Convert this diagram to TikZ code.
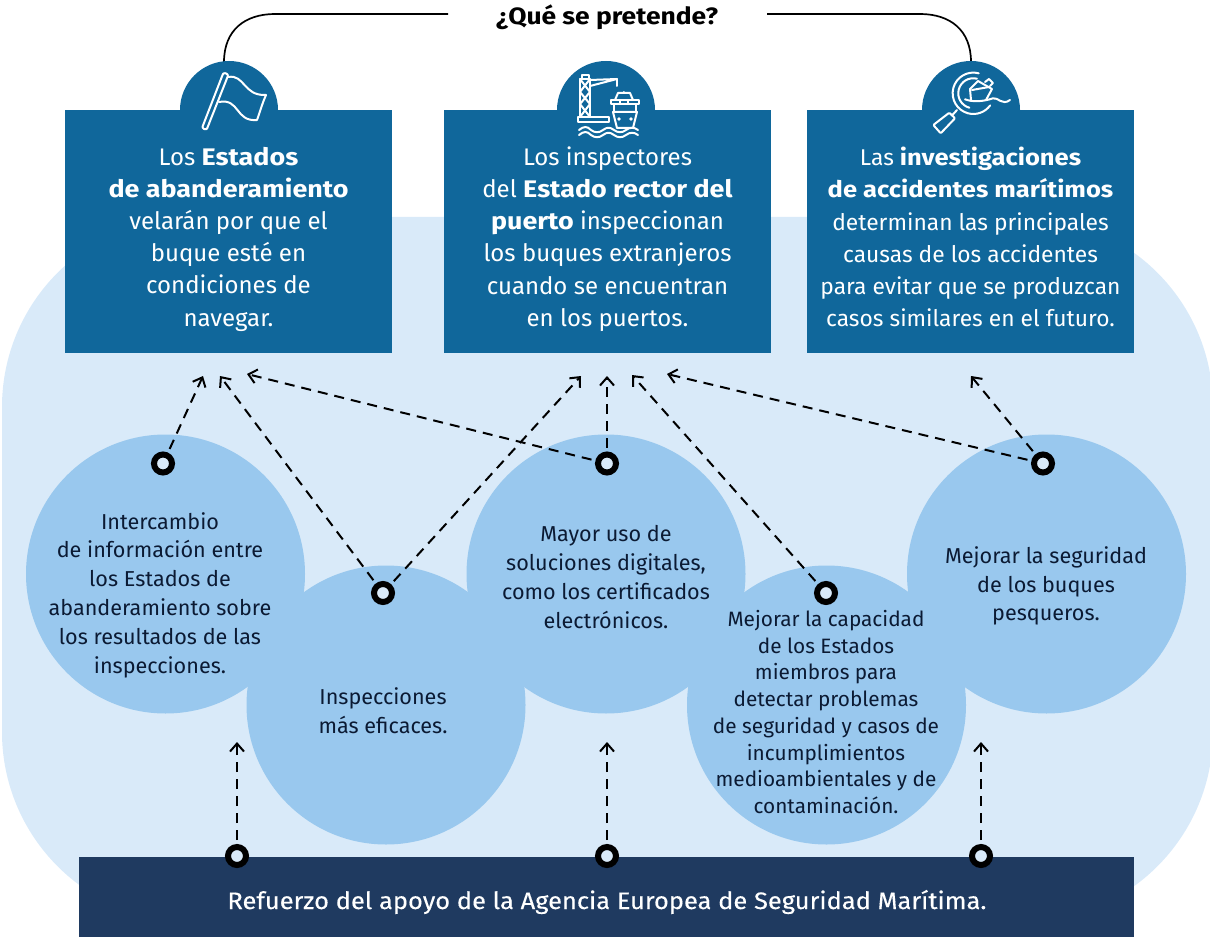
\documentclass[tikz,border=0pt]{standalone}
\usepackage{fontspec}
\setmainfont{Fira Sans}[BoldFeatures={FakeStretch=1.12}]
\newfontfamily\barfont{Fira Sans}[FakeStretch=1.07,FakeBold=0.25]
\usetikzlibrary{arrows.meta}
\definecolor{bgblue}{HTML}{D9EAF9}
\definecolor{circblue}{HTML}{99C8EE}
\definecolor{boxblue}{HTML}{10679B}
\definecolor{navy}{HTML}{1F3A60}
\definecolor{inktext}{HTML}{0B1A33}
\tikzset{
  x=1pt,y=-1pt,
  bubble/.style={circle,fill=circblue,minimum size=279pt,inner sep=0pt},
  dome/.style={circle,fill=boxblue,minimum size=98pt,inner sep=0pt},
  panel/.style={rectangle,fill=boxblue,minimum width=327pt,minimum height=243pt,inner sep=0pt},
  paneltext/.style={text=white,align=center,font=\fontsize{24}{32.2}\selectfont,inner sep=0pt},
  bubbletext/.style={text=inktext,align=center,font=\fontsize{21.6}{28.8}\selectfont,inner sep=0pt},
  ring/.style={circle,draw=black,line width=6pt,fill=bgblue,minimum size=18pt,inner sep=0pt},
  link/.style={draw=black,line width=2pt,dash pattern=on 10pt off 7pt,-{Straight Barb[length=8pt,width=14pt,line width=2pt]},shorten <=4pt},
  arcline/.style={draw=black,line width=1.7pt},
  icon/.style={draw=white,line width=2pt,line join=round,line cap=round},
}
\begin{document}
\begin{tikzpicture}
\useasboundingbox (0,0) rectangle (1210,944);
\fill[bgblue,rounded corners=190pt] (2,217) rectangle (1213,922);
% bubbles
\node[bubble] (b1) at (165.5,574) {};
\node[bubble] (b3) at (606,574) {};
\node[bubble] (b5) at (1046.5,574) {};
\node[bubble] (b2) at (386,705) {};
\node[bubble] (b4) at (826.5,705) {};
% top connector
\coordinate (la) at (224,62);
\coordinate (lb) at (448,14);
\coordinate (ra) at (971,62);
\coordinate (rb) at (767,14);
\draw[arcline] (la) .. controls (224,30) and (245,14) .. (275,14) -- (lb);
\draw[arcline] (ra) .. controls (971,30) and (950,14) .. (920,14) -- (rb);
\node[font=\fontsize{23.6}{28}\selectfont\bfseries,inner sep=0pt] (title) at (607,17) {¿Qué se pretende?};
% domes and panels
\node[dome] (d1) at (229,110) {};
\node[dome] (d2) at (606,110) {};
\node[dome] (d3) at (971,110) {};
\node[panel] (p1) at (228.5,231.5) {};
\node[panel] (p2) at (607.5,231.5) {};
\node[panel] (p3) at (970.5,231.5) {};
\node[paneltext] (t1) at (228.5,239) {Los \textbf{Estados}\\\textbf{de abanderamiento}\\velarán por que el\\buque esté en\\condiciones de\\navegar.};
\node[paneltext] (t2) at (607.5,239) {Los inspectores\\del \textbf{Estado rector del}\\\textbf{puerto} inspeccionan\\los buques extranjeros\\cuando se encuentran\\en los puertos.};
\node[paneltext,font=\fontsize{22.8}{32.2}\selectfont] (t3) at (970.5,237) {Las \textbf{investigaciones}\\\textbf{de accidentes marítimos}\\determinan las principales\\causas de los accidentes\\para evitar que se produzcan\\casos similares en el futuro.};
% flag icon
\draw[icon,rounded corners=2pt] (223.5,72.5) -- (228.5,74.5) -- (206.5,130) -- (202,128) -- cycle;
\draw[icon] (228,77) .. controls (245,74) and (243,96) .. (266,95) .. controls (262,104) and (260,112) .. (257,120) .. controls (235,122) and (240,98) .. (219,102);
% crane icon
\begin{scope}[icon]
\draw (580,79) rectangle (590,117);
\draw (582,75) rectangle (589,79);
\draw (580,79) -- (590,92) -- (580,104) -- (590,117) (590,79) -- (580,92) -- (590,104) -- (580,117);
\draw (590,80) -- (617,79) -- (590,86);
\draw (617,79) -- (617,86);
\draw (578,117) rectangle (609,122);
\draw (611,100) rectangle (639,104);
\draw (615,100) -- (618,93) -- (630,93) -- (633,100);
\draw (624,93) -- (624,92);
\draw (614,104) -- (614,112) (636,104) -- (636,112) (620,100) -- (620,104) (628,100) -- (628,104);
\draw (613,112) -- (637,112) -- (633,128) -- (617,128) -- cycle;
\fill[white] (619,119) circle (1.8pt) (631,119) circle (1.8pt);
\draw (579,130) .. controls (584,126) and (587,126) .. (591,130) .. controls (595,133) and (599,133) .. (603,130) .. controls (607,127) and (610,127) .. (614,130) .. controls (618,133) and (622,133) .. (626,130) .. controls (630,127) and (634,127) .. (638,130);
\draw (579,135) .. controls (584,131) and (587,131) .. (591,135) .. controls (595,138) and (599,138) .. (603,135) .. controls (607,132) and (610,132) .. (614,135) .. controls (618,138) and (622,138) .. (626,135) .. controls (630,132) and (634,132) .. (638,135);
\end{scope}
% magnifier icon
\begin{scope}[icon]
\draw (978.7,73.3) arc (-75:-324:20.7);
\draw (976.9,78.7) arc (-76:-255:15);
\draw[rounded corners=1pt] (933.3,125) -- (949.3,112.7) -- (955,118.3) -- (940.7,133.3) -- cycle;
\draw (952,115.5) -- (957,110);
\draw (965,99.3) .. controls (972,102) and (982,102) .. (993,98.3) .. controls (998,97) and (1002,106) .. (1010,100);
\draw (971,100) -- (970,89) -- (978,81) -- (992,89) -- (986,100);
\draw (972,90) -- (989,87) (985,82) -- (989,79) -- (993,83) -- (990,86);
\end{scope}
% bubble texts
\node[bubbletext] (x1) at (160,595) {Intercambio\\de información entre\\los Estados de\\abanderamiento sobre\\los resultados de las\\inspecciones.};
\node[bubbletext] (x2) at (383,711) {Inspecciones\\más eficaces.};
\node[bubbletext] (x3) at (606,577) {Mayor uso de\\soluciones digitales,\\como los certificados\\electrónicos.};
\node[bubbletext,font=\fontsize{20.8}{26.7}\selectfont] (x4) at (826,712) {Mejorar la capacidad\\de los Estados\\miembros para\\detectar problemas\\de seguridad y casos de\\incumplimientos\\medioambientales y de\\contaminación.};
\node[bubbletext] (x5) at (1046,586) {Mejorar la seguridad\\de los buques\\pesqueros.};
% bottom bar
\node[rectangle,fill=navy,minimum width=1055pt,minimum height=80pt,inner sep=0pt] (bar) at (606.5,897) {};
\node[text=white,font=\fontsize{23.8}{28}\barfont,inner sep=0pt] (bartext) at (607,902) {Refuerzo del apoyo de la Agencia Europea de Seguridad Marítima.};
% rings
\node[ring] (r1) at (163,463.5) {};
\node[ring] (r2) at (383,593) {};
\node[ring] (r3) at (607,463.5) {};
\node[ring] (r4) at (826,593) {};
\node[ring] (r5) at (1043,463.5) {};
\node[ring] (r6) at (237,856) {};
\node[ring] (r7) at (607,856) {};
\node[ring] (r8) at (981,856) {};
% targets
\coordinate (a1) at (203,376);
\coordinate (a2) at (220,376);
\coordinate (a3) at (247,374);
\coordinate (a4) at (581,376);
\coordinate (a5) at (607,376);
\coordinate (a6) at (632,375);
\coordinate (a7) at (667,374);
\coordinate (a8) at (971,376);
\coordinate (a9) at (237,742);
\coordinate (a10) at (607,742);
\coordinate (a11) at (981,742);
\draw[link] (r1) -- (a1);
\draw[link] (r2) -- (a2);
\draw[link] (r3) -- (a3);
\draw[link] (r2) -- (a4);
\draw[link] (r3) -- (a5);
\draw[link] (r4) -- (a6);
\draw[link] (r5) -- (a7);
\draw[link] (r5) -- (a8);
\draw[link] (r6) -- (a9);
\draw[link] (r7) -- (a10);
\draw[link] (r8) -- (a11);
\end{tikzpicture}
\end{document}
